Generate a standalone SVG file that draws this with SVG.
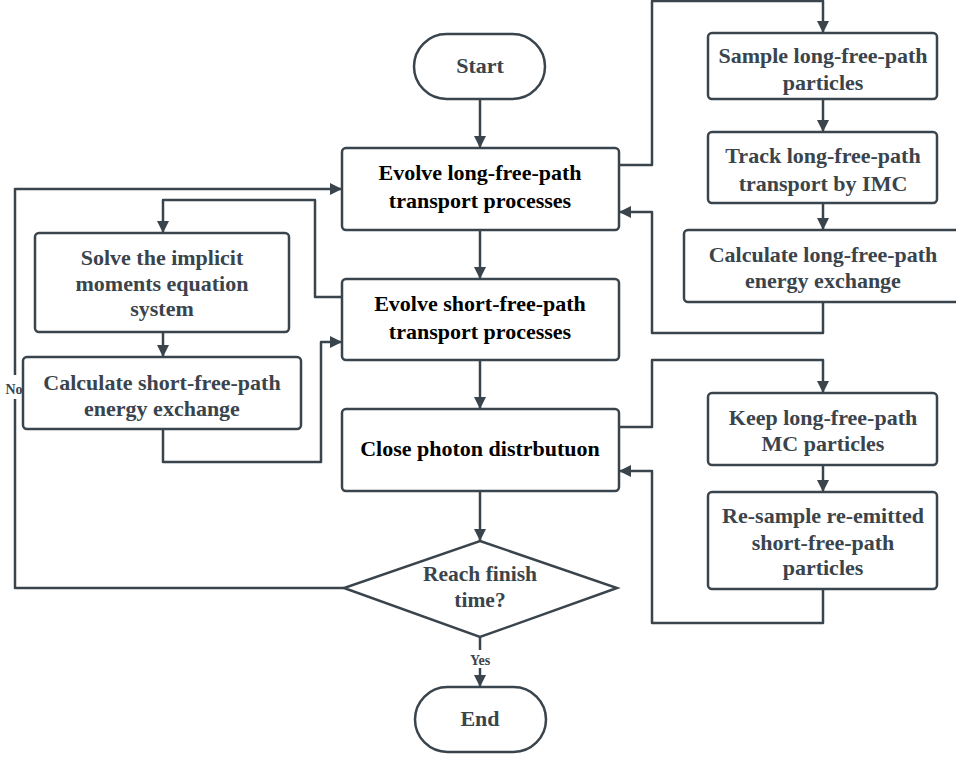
<svg xmlns="http://www.w3.org/2000/svg" width="956" height="758" viewBox="0 0 956 758">
<defs>
<marker id="ah" markerUnits="userSpaceOnUse" markerWidth="12" markerHeight="12" viewBox="0 0 12 12" refX="12" refY="6" orient="auto">
<path d="M0,0 L12,6 L0,12 Z" fill="#3a444c"/>
</marker>
<style>
.box{fill:#fff;stroke:#3a444c;stroke-width:2.5}
.ln{fill:none;stroke:#3a444c;stroke-width:2.5;stroke-linejoin:round}
.arr{fill:none;stroke:#3a444c;stroke-width:2.5;stroke-linejoin:round;marker-end:url(#ah)}
.tm{font-family:"Liberation Serif",serif;font-weight:bold;font-size:22px;fill:#000;text-anchor:middle}
.ts{font-family:"Liberation Serif",serif;font-weight:bold;font-size:22px;fill:#3a444c;text-anchor:middle}
.td{font-family:"Liberation Serif",serif;font-weight:bold;font-size:21.5px;fill:#3a444c;text-anchor:middle}
.tl{font-family:"Liberation Serif",serif;font-weight:bold;font-size:14px;fill:#3a444c;text-anchor:middle}
</style>
</defs>
<rect width="956" height="758" fill="#fff"/>
<g id="connectors">
<path class="arr" d="M480,99 V148"/>
<path class="arr" d="M480,230 V279"/>
<path class="arr" d="M480,360 V409"/>
<path class="arr" d="M480,491 V541"/>
<path class="arr" d="M480,637 V687"/>
<path class="arr" d="M344,588 H15 V189 H342"/>
<path class="arr" d="M342,297 H315 V200 H163 V233"/>
<path class="arr" d="M163,332 V357"/>
<path class="arr" d="M163,429 V462 H321 V342 H342"/>
<path class="arr" d="M619,165 H652 V1 H823 V33"/>
<path class="arr" d="M823,99 V132"/>
<path class="arr" d="M823,203 V230"/>
<path class="arr" d="M823,302 V333 H652 V212 H619"/>
<path class="arr" d="M619,427 H652 V360 H823 V393"/>
<path class="arr" d="M823,465 V492"/>
<path class="arr" d="M823,589 V623 H652 V471 H619"/>
<rect x="5" y="375" width="20" height="24" fill="#fff"/>
<text class="tl" x="14" y="394">No</text>
<rect x="465" y="650" width="30" height="18" fill="#fff"/>
<text class="tl" x="480" y="665">Yes</text>
</g>
<g id="start"><rect class="box" x="414" y="34" width="131" height="65" rx="32.5"/><text class="ts" x="480" y="73">Start</text></g>
<g id="evolve-long"><rect class="box" x="342" y="148" width="277" height="82" rx="4"/><text class="tm" x="480" y="180">Evolve long-free-path</text><text class="tm" x="480" y="208">transport processes</text></g>
<g id="evolve-short"><rect class="box" x="342" y="279" width="277" height="81" rx="4"/><text class="tm" x="480" y="311">Evolve short-free-path</text><text class="tm" x="480" y="339">transport processes</text></g>
<g id="close"><rect class="box" x="342" y="409" width="277" height="82" rx="4"/><text class="tm" x="480" y="456">Close photon distrbutuon</text></g>
<g id="decision"><path class="box" d="M480,541 L617,588 L480,637 L344,588 Z"/><text class="td" x="480" y="581">Reach finish</text><text class="td" x="480" y="607">time?</text></g>
<g id="end"><rect class="box" x="415" y="687" width="131" height="65" rx="32.5"/><text class="ts" x="480" y="726">End</text></g>
<g id="solve"><rect class="box" x="35" y="233" width="254" height="99" rx="4"/><text class="ts" x="162" y="265">Solve the implicit</text><text class="ts" x="162" y="291">moments equation</text><text class="ts" x="162" y="316">system</text></g>
<g id="calc-short"><rect class="box" x="23" y="357" width="278" height="72" rx="4"/><text class="ts" x="162" y="390">Calculate short-free-path</text><text class="ts" x="162" y="416">energy exchange</text></g>
<g id="sample"><rect class="box" x="708" y="33" width="229" height="66" rx="4"/><text class="ts" x="823" y="63">Sample long-free-path</text><text class="ts" x="823" y="90">particles</text></g>
<g id="track"><rect class="box" x="708" y="132" width="229" height="71" rx="4"/><text class="ts" x="823" y="163">Track long-free-path</text><text class="ts" x="823" y="191">transport by IMC</text></g>
<g id="calc-long"><rect class="box" x="684" y="230" width="280" height="72" rx="4"/><text class="ts" x="823" y="262">Calculate long-free-path</text><text class="ts" x="823" y="288">energy exchange</text></g>
<g id="keep"><rect class="box" x="708" y="393" width="229" height="72" rx="4"/><text class="ts" x="823" y="425">Keep long-free-path</text><text class="ts" x="823" y="451">MC particles</text></g>
<g id="resample"><rect class="box" x="708" y="492" width="229" height="97" rx="4"/><text class="ts" x="823" y="523">Re-sample re-emitted</text><text class="ts" x="823" y="550">short-free-path</text><text class="ts" x="823" y="575">particles</text></g>
</svg>
